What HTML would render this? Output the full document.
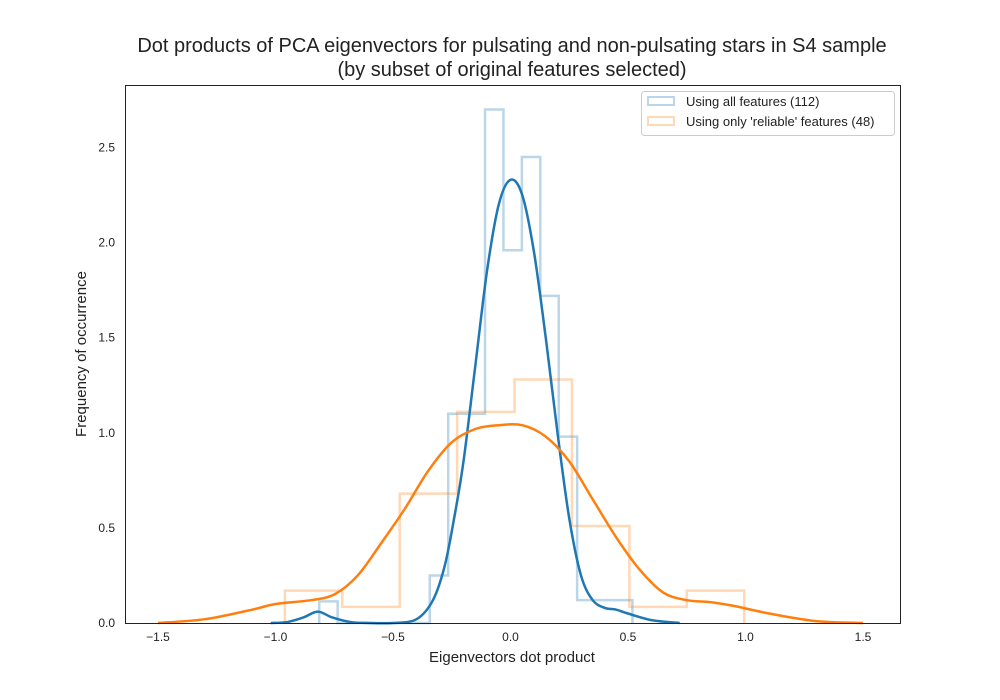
<!DOCTYPE html>
<html><head><meta charset="utf-8"><style>
html,body{margin:0;padding:0;background:#fff;}
svg{display:block;font-family:"Liberation Sans",sans-serif;}
</style></head><body>
<svg id="chart" width="1000" height="700" viewBox="0 0 1000 700">
<text x="512" y="52" text-anchor="middle" font-size="20" fill="#222">Dot products of PCA eigenvectors for pulsating and non-pulsating stars in S4 sample</text>
<text x="512" y="76" text-anchor="middle" font-size="20" fill="#222">(by subset of original features selected)</text>
<g id="plot"></g>
<rect x="125.5" y="85.5" width="775" height="538" fill="none" stroke="#222" stroke-width="1"/>
<text x="512" y="662" text-anchor="middle" font-size="15" fill="#222">Eigenvectors dot product</text>
<text transform="translate(86,354) rotate(-90)" text-anchor="middle" font-size="15" fill="#222">Frequency of occurrence</text>
<g>
<rect x="641.5" y="91.5" width="253" height="44" rx="3" fill="#fff" fill-opacity="0.8" stroke="#ccc"/>
<rect x="648" y="97" width="26" height="8" fill="none" stroke="#1f77b4" stroke-opacity="0.3" stroke-width="2"/>
<text x="686" y="106" font-size="13" fill="#222">Using all features (112)</text>
<rect x="648" y="117" width="26" height="8" fill="none" stroke="#ff7f0e" stroke-opacity="0.3" stroke-width="2"/>
<text x="686" y="126" font-size="13" fill="#222">Using only 'reliable' features (48)</text>
</g>
</svg>
<script>
const blueStart = -0.814;
const blueWidth = 0.0784;
const blueHeights = [0.114,0,0,0,0,0,0.25,1.1,1.1,2.7,1.96,2.45,1.72,0.98,0.12,0.12,0.12];
const orangeStart = -0.96;
const orangeWidth = 0.2443;
const orangeHeights = [0.17,0.085,0.68,1.11,1.28,0.51,0.085,0.17];
const blueKdeX = [-1.02,-0.95,-0.88,-0.82,-0.76,-0.68,-0.6,-0.5,-0.4,-0.33,-0.28,-0.24,-0.2,-0.15,-0.1,-0.05,0,0.05,0.1,0.15,0.2,0.25,0.3,0.35,0.4,0.45,0.5,0.6,0.72];
const blueKdeY = [0,0.005,0.03,0.06,0.03,0.005,0,0,0.02,0.12,0.3,0.55,0.85,1.35,1.85,2.2,2.33,2.25,1.95,1.5,1.0,0.55,0.25,0.12,0.08,0.07,0.05,0.015,0];
const orangeKdeX = [-1.5,-1.3,-1.1,-1.0,-0.85,-0.75,-0.65,-0.55,-0.45,-0.35,-0.25,-0.15,-0.05,0.05,0.15,0.25,0.35,0.45,0.55,0.65,0.75,0.85,0.95,1.1,1.3,1.5];
const orangeKdeY = [0,0.02,0.07,0.1,0.12,0.15,0.25,0.42,0.6,0.8,0.95,1.02,1.04,1.04,0.98,0.85,0.65,0.45,0.28,0.16,0.12,0.11,0.09,0.05,0.01,0];
const xTicks = [-1.5,-1.0,-0.5,0.0,0.5,1.0,1.5];
const yTicks = [0.0,0.5,1.0,1.5,2.0,2.5];

const NS='http://www.w3.org/2000/svg';
const X = v => 510.5 + v*235;
const Y = v => 623 - v*190.2;
const g = document.getElementById('plot');
function mk(t){return document.createElementNS(NS,t);}

function histPath(start,w,h){
  let d='M'+X(start)+','+Y(0);
  h.forEach((v,i)=>{const x0=X(start+i*w),x1=X(start+(i+1)*w);d+=' L'+x0+','+Y(v)+' L'+x1+','+Y(v);});
  d+=' L'+X(start+h.length*w)+','+Y(0);
  return d;
}
function smooth(xs,ys){
  const p=xs.map((x,i)=>[X(x),Y(ys[i])]);
  let d='M'+p[0][0]+','+p[0][1];
  for(let i=0;i<p.length-1;i++){
    const p0=p[Math.max(0,i-1)],p1=p[i],p2=p[i+1],p3=p[Math.min(p.length-1,i+2)];
    const c1=[p1[0]+(p2[0]-p0[0])/6,p1[1]+(p2[1]-p0[1])/6];
    const c2=[p2[0]-(p3[0]-p1[0])/6,p2[1]-(p3[1]-p1[1])/6];
    d+=' C'+c1[0]+','+c1[1]+' '+c2[0]+','+c2[1]+' '+p2[0]+','+p2[1];
  }
  return d;
}
const hb=mk('path');hb.setAttribute('d',histPath(blueStart,blueWidth,blueHeights));
hb.setAttribute('fill','none');hb.setAttribute('stroke','#1f77b4');hb.setAttribute('stroke-opacity','0.3');hb.setAttribute('stroke-width','2.5');


g.appendChild(hb);
const ho=mk('path');ho.setAttribute('d',histPath(orangeStart,orangeWidth,orangeHeights));
ho.setAttribute('fill','none');ho.setAttribute('stroke','#ff7f0e');ho.setAttribute('stroke-opacity','0.3');ho.setAttribute('stroke-width','2.5');


g.appendChild(ho);
const kb=mk('path');kb.setAttribute('d',smooth(blueKdeX,blueKdeY));
kb.setAttribute('fill','none');kb.setAttribute('stroke','#1f77b4');kb.setAttribute('stroke-width','2.5');


g.appendChild(kb);
const ko=mk('path');ko.setAttribute('d',smooth(orangeKdeX,orangeKdeY));
ko.setAttribute('fill','none');ko.setAttribute('stroke','#ff7f0e');ko.setAttribute('stroke-width','2.5');


g.appendChild(ko);

xTicks.forEach(v=>{
  const t=mk('text');t.setAttribute('x',X(v));t.setAttribute('y',641);t.setAttribute('text-anchor','middle');
  t.setAttribute('font-size','12');t.setAttribute('fill','#222');t.textContent=v.toFixed(1).replace('-','\u2212');
  
  
  g.appendChild(t);
});
yTicks.forEach(v=>{
  const t=mk('text');t.setAttribute('x',115);t.setAttribute('y',Y(v)+4);t.setAttribute('text-anchor','end');
  t.setAttribute('font-size','12');t.setAttribute('fill','#222');t.textContent=v.toFixed(1);
  
  
  g.appendChild(t);
});
</script>
</body></html>
